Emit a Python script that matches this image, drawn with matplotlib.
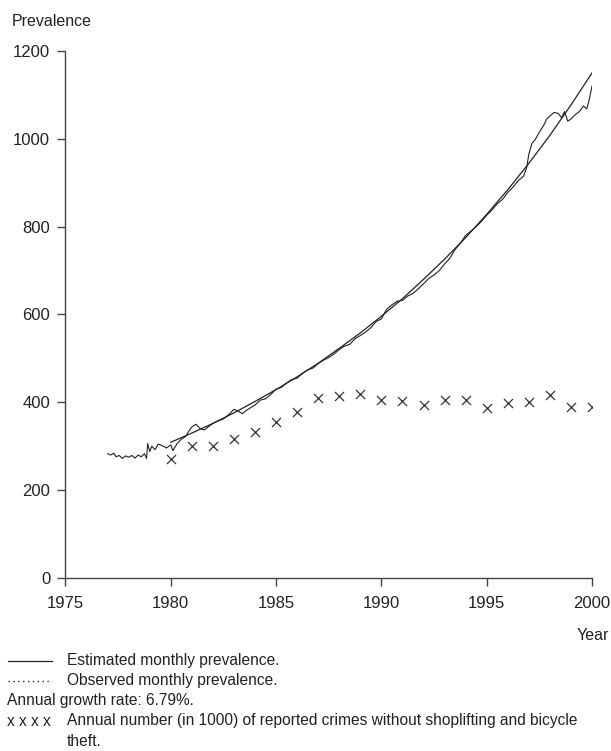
import matplotlib
matplotlib.use("Agg")
import matplotlib.pyplot as plt
from matplotlib.lines import Line2D

plt.rcParams["font.family"] = ["Liberation Sans", "DejaVu Sans"]

INK = "#222222"

# estimated monthly prevalence (smooth exponential fit), read at year starts
est_year = [1980, 1981, 1982, 1983, 1984, 1985, 1986, 1987, 1988, 1989, 1990,
            1991, 1992, 1993, 1994, 1995, 1996, 1997, 1998, 1999, 2000]
est_value = [309, 330, 352, 376, 402, 429, 458, 489, 523, 558, 596,
             636, 680, 726, 775, 828, 884, 944, 1008, 1077, 1150]

# observed monthly prevalence (jagged series)
obs_year = [1977.0, 1977.15, 1977.3, 1977.4, 1977.55, 1977.7, 1977.85, 1978.0,
            1978.15, 1978.3, 1978.45, 1978.6, 1978.75, 1978.85, 1978.9, 1979.0,
            1979.1, 1979.25, 1979.4, 1979.6, 1979.8, 1980.0, 1980.1, 1980.3,
            1980.5, 1980.7, 1980.85, 1981.0, 1981.2, 1981.4, 1981.6, 1981.8,
            1982.0, 1982.25, 1982.5, 1982.75, 1983.0, 1983.2, 1983.4, 1983.6,
            1983.8, 1984.0, 1984.25, 1984.5, 1984.75, 1985.0, 1985.25, 1985.5,
            1985.75, 1986.0, 1986.25, 1986.5, 1986.75, 1987.0, 1987.25, 1987.5,
            1987.75, 1988.0, 1988.25, 1988.5, 1988.75, 1989.0, 1989.25, 1989.5,
            1989.75, 1990.0, 1990.25, 1990.5, 1990.75, 1991.0, 1991.25, 1991.5,
            1991.75, 1992.0, 1992.25, 1992.5, 1992.75, 1993.0, 1993.25, 1993.5,
            1993.75, 1994.0, 1994.25, 1994.5, 1994.75, 1995.0, 1995.25, 1995.5,
            1995.75, 1996.0, 1996.25, 1996.5, 1996.75, 1996.9, 1997.0, 1997.15,
            1997.3, 1997.5, 1997.7, 1997.85, 1998.0, 1998.2, 1998.4, 1998.55,
            1998.7, 1998.85, 1999.0, 1999.2, 1999.4, 1999.6, 1999.75, 1999.85,
            2000.0]
obs_value = [283, 280, 284, 276, 279, 272, 278, 275,
             279, 273, 280, 276, 283, 272, 306, 288,
             300, 292, 305, 301, 296, 303, 290, 306,
             316, 322, 334, 344, 350, 340, 337, 345,
             352, 358, 362, 372, 384, 380, 374, 382,
             388, 394, 405, 408, 418, 430, 434, 444,
             452, 455, 466, 474, 478, 488, 496, 502,
             510, 520, 528, 532, 545, 552, 560, 570,
             584, 590, 612, 622, 630, 632, 642, 648,
             658, 670, 682, 690, 700, 715, 728, 748,
             762, 780, 790, 800, 812, 826, 838, 852,
             862, 878, 890, 905, 915, 935, 965, 990,
             998, 1015, 1030, 1045, 1052, 1060, 1058, 1048,
             1062, 1040, 1045, 1055, 1062, 1075, 1068, 1085,
             1120]

# annual number (in 1000) of reported crimes without shoplifting and bicycle theft
crime_year = list(range(1980, 2001))
crime_value = [271, 300, 300, 316, 332, 356, 378, 410, 414, 418, 406,
               402, 394, 406, 406, 388, 398, 400, 416, 390, 390]

y_ticks = [0, 200, 400, 600, 800, 1000, 1200]
x_ticks = [1975, 1980, 1985, 1990, 1995, 2000]

fig = plt.figure(figsize=(6.11, 7.51), dpi=100)
ax = fig.add_axes([0.1072, 0.2304, 0.8617, 0.7017])

ax.plot(est_year, est_value, color=INK, lw=0.9)
ax.plot(obs_year, obs_value, color=INK, lw=0.8)
ax.scatter(crime_year, crime_value, marker="x", s=42, color="#333333",
           linewidths=0.9)

ax.set_xlim(1975, 2000)
ax.set_ylim(0, 1200)
ax.set_xticks(x_ticks)
ax.set_yticks(y_ticks)
for side in ["top", "right"]:
    ax.spines[side].set_visible(False)
for side in ["left", "bottom"]:
    ax.spines[side].set_color("#444444")
    ax.spines[side].set_linewidth(1.0)
ax.tick_params(direction="out", length=6, width=1.0, color="#444444",
               labelsize=12, labelcolor=INK, pad=5)
ax.tick_params(axis="x", pad=7)

fig.text(12 / 611, 1 - 21 / 751, "Prevalence", fontsize=11.5, color=INK,
         ha="left", va="center")
fig.text(609 / 611, 1 - 636 / 751, "Year", fontsize=11.5, color=INK,
         ha="right", va="center")

# caption / key below the plot
fs = 11.2
rows = [661, 681, 701, 721, 741]
fig.add_artist(Line2D([8 / 611, 52 / 611], [1 - rows[0] / 751] * 2,
                      color=INK, lw=0.9))
fig.add_artist(Line2D([8 / 611, 52 / 611], [1 - rows[1] / 751] * 2,
                      color=INK, lw=1.0, linestyle=(0, (1, 2.5))))
fig.text(67 / 611, 1 - rows[0] / 751, "Estimated monthly prevalence.",
         fontsize=fs, color=INK, va="center")
fig.text(67 / 611, 1 - rows[1] / 751, "Observed monthly prevalence.",
         fontsize=fs, color=INK, va="center")
fig.text(7 / 611, 1 - rows[2] / 751, "Annual growth rate: 6.79%.",
         fontsize=fs, color=INK, va="center")
fig.text(7 / 611, 1 - rows[3] / 751, "x x x x", fontsize=fs, color=INK,
         va="center")
fig.text(67 / 611, 1 - rows[3] / 751,
         "Annual number (in 1000) of reported crimes without shoplifting and bicycle",
         fontsize=fs, color=INK, va="center")
fig.text(67 / 611, 1 - rows[4] / 751, "theft.", fontsize=fs, color=INK,
         va="center")

fig.savefig("out.png", dpi=100)
